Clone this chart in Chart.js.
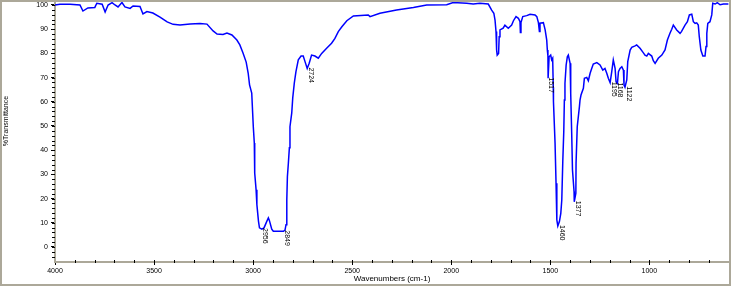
<!DOCTYPE html>
<html>
<head>
<meta charset="utf-8">
<script src="https://cdn.jsdelivr.net/npm/chart.js@4/dist/chart.umd.min.js"></script>
<style>
  html, body { margin: 0; padding: 0; background: #fff; }
  #wrap { position: relative; width: 731px; height: 286px; }
</style>
</head>
<body>
<div id="wrap"><canvas id="spectrum" width="731" height="286"></canvas></div>
<script>
// spectrum
var wavenumbers = [
  4000, 3975, 3924, 3874, 3859, 3834, 3799, 3789, 3762, 3747,
  3732, 3712, 3697, 3682, 3662, 3647, 3621, 3606, 3571, 3556,
  3536, 3506, 3470, 3434, 3404, 3369, 3318, 3268, 3233, 3202,
  3182, 3152, 3132, 3107, 3082, 3067, 3051, 3035, 3025, 3018,
  3007, 2999, 2994, 2992, 2985, 2981, 2973, 2968, 2956, 2945,
  2931, 2923, 2918, 2906, 2898, 2847, 2839, 2834, 2830, 2827,
  2822, 2817, 2814, 2805, 2800, 2792, 2784, 2772, 2758, 2747,
  2738, 2727, 2717, 2705, 2688, 2671, 2654, 2629, 2604, 2587,
  2570, 2552, 2527, 2494, 2419, 2410, 2360, 2276, 2191, 2124,
  2023, 1990, 1922, 1889, 1855, 1813, 1796, 1785, 1779, 1774,
  1771, 1768, 1761, 1758, 1754, 1738, 1729, 1712, 1695, 1686,
  1673, 1661, 1653, 1651, 1648, 1639, 1619, 1602, 1577, 1568,
  1560, 1555, 1552, 1535, 1526, 1518, 1515, 1512, 1511, 1506,
  1498, 1493, 1488, 1485, 1484, 1476, 1471, 1467, 1462, 1454,
  1447, 1442, 1437, 1432, 1429, 1426, 1420, 1414, 1409, 1400,
  1397, 1392, 1388, 1380, 1379, 1371, 1370, 1364, 1353, 1350,
  1345, 1333, 1328, 1316, 1308, 1299, 1291, 1283, 1265, 1249,
  1235, 1224, 1215, 1207, 1198, 1190, 1182, 1173, 1168, 1161,
  1156, 1148, 1139, 1131, 1128, 1123, 1114, 1109, 1097, 1089,
  1072, 1064, 1047, 1030, 1022, 1013, 1005, 988, 980, 971,
  955, 937, 921, 909, 896, 887, 879, 862, 845, 838,
  820, 808, 798, 786, 778, 769, 761, 753, 748, 740,
  730, 719, 714, 710, 705, 694, 685, 680, 668, 657,
  643, 626, 601
];
var transmittance = [
  100, 100.3, 100.3, 100, 97.5, 98.8, 99, 100.7, 100.3, 97.1,
  100, 101, 100, 99.2, 101, 99.2, 98.6, 99.6, 99.4, 96.3,
  97.3, 96.7, 95, 93, 92, 91.7, 92.1, 92.4, 92.1, 89.3,
  88, 87.8, 88.4, 87.6, 85.5, 83.5, 80.2, 76.4, 71.9, 67,
  63.6, 49.6, 43, 30.6, 23.7, 17.5, 10.7, 7.9, 7.4, 7.9,
  10.6, 12, 11, 7.4, 6.5, 6.5, 7, 9.2, 19.5, 29,
  34.7, 41, 49.7, 55.4, 61.6, 67.8, 72.4, 77.3, 78.9, 78.9,
  76.6, 73.8, 75.9, 79.3, 78.9, 78, 80, 82.1, 84.2, 86.2,
  89, 91, 93.5, 95.5, 95.9, 95.2, 96.6, 97.9, 99, 100,
  100.1, 101, 100.7, 100.4, 100.7, 100.4, 97.9, 96.6, 93.8, 89,
  81.4, 79.3, 80, 86.9, 89.7, 90.4, 91.7, 90.4, 91.7, 93.5,
  95.2, 94.5, 93.1, 88.6, 92.7, 95.2, 95.6, 96.2, 95.9, 95.2,
  92.7, 89, 92.5, 92.7, 89.7, 85.5, 81.4, 79, 69.7, 78.6,
  79.3, 77.3, 78, 66, 60, 43, 26.3, 11.2, 8.7, 10.5,
  13.9, 19.4, 35.2, 47.6, 60.7, 67.6, 75.2, 78.6, 79.3, 75.9,
  63.5, 47, 31.8, 22.9, 18.7, 22.2, 34.6, 49.7, 58, 60.7,
  62.8, 65.6, 69.7, 70.1, 68.7, 71.8, 73.8, 75.6, 76.2, 75.2,
  73.1, 73.8, 71.8, 69.7, 67.9, 72.4, 77.3, 73.8, 68.3, 67.6,
  72.4, 73.8, 74.5, 73.1, 66.9, 66, 69, 76.6, 81.4, 82.5,
  83.1, 83.5, 82.1, 80.2, 79.3, 78.9, 80, 78.9, 77, 75.9,
  78, 79.3, 81.4, 85.5, 88.3, 90, 91.7, 89.7, 88.3, 89,
  91.7, 93.1, 95.9, 96.2, 93.1, 92.4, 92.6, 91.7, 86.9, 81.4,
  78.9, 78.9, 82.8, 88.3, 92.4, 93.1, 95.9, 100.7, 100.4, 101,
  100.1, 100.4, 100.4
];

// tick labels
var xTicks = [4000, 3500, 3000, 2500, 2000, 1500, 1000];
var yTicks = [0, 10, 20, 30, 40, 50, 60, 70, 80, 90, 100];

// peak picks
var peakLabels = ["2956", "2849", "2724", "1517", "1460", "1377", "1195", "1168", "1122"];
var peakWn = [2956, 2849, 2724, 1513, 1460, 1377, 1195, 1168, 1122];
var peakT = [7.4, 6.5, 73.8, 69.7, 8.7, 18.7, 67.9, 67.6, 66];

var points = wavenumbers.map(function (w, i) {
  return { x: w, y: transmittance[i] };
});

var frameColor = "#aca899";
var smallFont = { family: "Liberation Sans, Arial, sans-serif", size: 7 };

// minor ticks, frame, y title, peak labels
var extras = {
  id: "extras",
  afterDraw: function (chart) {
    var ctx = chart.ctx;
    var xs = chart.scales.x;
    var ys = chart.scales.y;
    var area = chart.chartArea;
    ctx.save();
    ctx.strokeStyle = "#000";
    ctx.lineWidth = 1;
    ctx.beginPath();
    for (var v = -4; v <= 100; v += 2) {
      var py = Math.round(ys.getPixelForValue(v)) + 0.5;
      ctx.moveTo(area.left - 3, py);
      ctx.lineTo(area.left, py);
    }
    for (var w = 3900; w >= 700; w -= 100) {
      var px = Math.round(xs.getPixelForValue(w)) + 0.5;
      ctx.moveTo(px, area.bottom - 2);
      ctx.lineTo(px, area.bottom + 1);
    }
    ctx.stroke();

    // frame round the window
    ctx.strokeStyle = frameColor;
    ctx.lineWidth = 2;
    ctx.strokeRect(1, 1, chart.width - 2, chart.height - 2);

    // y title
    ctx.fillStyle = "#000";
    ctx.font = "7px Liberation Sans, Arial, sans-serif";
    ctx.textAlign = "center";
    ctx.textBaseline = "middle";
    ctx.save();
    ctx.translate(6, 121);
    ctx.rotate(-Math.PI / 2);
    ctx.fillText("%Transmittance", 0, 0);
    ctx.restore();

    // peak labels, rotated
    ctx.textAlign = "left";
    for (var i = 0; i < peakLabels.length; i++) {
      var lx = xs.getPixelForValue(peakWn[i]) + 3.5;
      var ly = ys.getPixelForValue(peakT[i]) - 1;
      ctx.save();
      ctx.translate(lx, ly);
      ctx.rotate(Math.PI / 2);
      ctx.fillText(peakLabels[i], 0, 0);
      ctx.restore();
    }
    ctx.restore();
  }
};

var chart = new Chart(document.getElementById("spectrum"), {
  type: "line",
  data: {
    datasets: [
      {
        data: points,
        borderColor: "#0000ff",
        borderWidth: 1.5,
        pointRadius: 0,
        tension: 0,
        fill: false
      }
    ]
  },
  options: {
    responsive: false,
    animation: false,
    events: [],
    layout: { padding: { top: 1, right: 2, bottom: 2, left: 0 } },
    plugins: { legend: { display: false }, tooltip: { enabled: false } },
    scales: {
      x: {
        type: "linear",
        reverse: true,
        min: 598,
        max: 4000,
        afterBuildTicks: function (scale) {
          scale.ticks = xTicks.map(function (v) { return { value: v }; });
        },
        afterFit: function (scale) {
          scale.height = 22;
          scale.paddingLeft = 0;
          scale.paddingRight = 0;
        },
        grid: { display: true, drawOnChartArea: false, drawTicks: true, tickLength: 3, tickColor: "#000", tickWidth: 1 },
        border: { display: true, color: frameColor, width: 2 },
        ticks: {
          color: "#000", font: smallFont, padding: 2, maxRotation: 0, autoSkip: false,
          callback: function (value) { return String(value); }
        },
        title: { display: true, text: "Wavenumbers (cm-1)", color: "#000", font: { family: "Liberation Sans, Arial, sans-serif", size: 8 }, padding: 0 }
      },
      y: {
        min: -6.2,
        max: 101.65,
        afterBuildTicks: function (scale) {
          scale.ticks = yTicks.map(function (v) { return { value: v }; });
        },
        afterFit: function (scale) {
          scale.width = 55;
          scale.paddingTop = 0;
          scale.paddingBottom = 0;
        },
        grid: { display: true, drawOnChartArea: false, drawTicks: true, tickLength: 4, tickColor: "#000", tickWidth: 1 },
        border: { display: true, color: frameColor, width: 2 },
        ticks: {
          color: "#000", font: smallFont, padding: 3, autoSkip: false,
          callback: function (value) { return String(value); }
        }
      }
    }
  },
  plugins: [extras]
});
</script>
</body>
</html>
